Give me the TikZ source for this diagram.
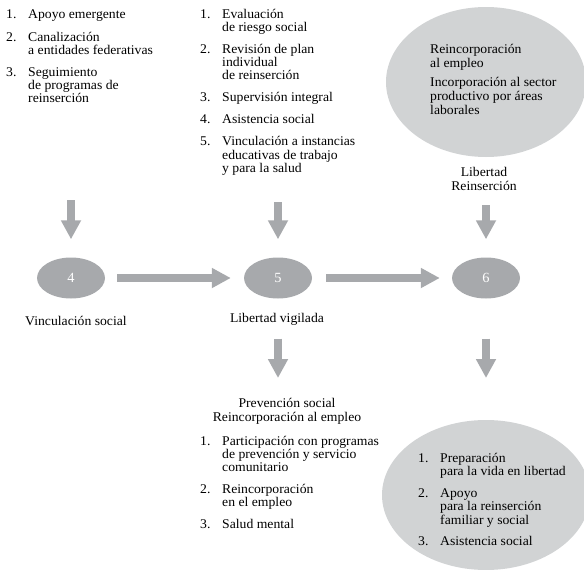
\documentclass[tikz,border=0pt]{standalone}
\usepackage{fontspec}
\setmainfont[FakeStretch=1.03]{Liberation Serif}
\usetikzlibrary{arrows.meta,shapes.geometric}
\definecolor{arrowgray}{HTML}{A7A9AC}
\definecolor{ovalgray}{HTML}{A7A9AC}
\definecolor{lightoval}{HTML}{D1D3D4}
\newcommand\itm[1]{\makebox[22pt][l]{#1}}
\tikzset{
  txt/.style={font=\fontsize{13.3}{13}\selectfont, inner sep=0pt},
  txtb/.style={font=\fontsize{13.3}{14}\selectfont, inner sep=0pt},
  smallov/.style={ellipse, fill=ovalgray, draw=none, minimum width=68pt, minimum height=41pt, inner sep=0pt, text=white, font=\fontsize{14}{14}\selectfont},
  bigov/.style={ellipse, fill=lightoval, draw=none, minimum width=200pt, minimum height=150pt, inner sep=0pt},
  bigarrow/.style={draw=arrowgray, line width=7.5pt, -{Triangle[width=19pt,length=19pt]}}
}
\begin{document}
\begin{tikzpicture}[x=1pt,y=-1pt]
\useasboundingbox (0,0) rectangle (584,570);
% big ellipses
\node[bigov] (etop) at (486,82) {};
\node[bigov, minimum width=208pt, minimum height=150pt] (ebot) at (486,495) {};
% lists
\node[txt, anchor=base west] (list1) at (6,19) {\begin{tabular}[t]{@{}l@{}}
\itm{1.}Apoyo emergente\\[9pt]
\itm{2.}Canalización\\
\itm{}a entidades federativas\\[9pt]
\itm{3.}Seguimiento\\
\itm{}de programas de\\
\itm{}reinserción
\end{tabular}};
\node[txt, anchor=base west] (list2) at (200,18) {\begin{tabular}[t]{@{}l@{}}
\itm{1.}Evaluación\\
\itm{}de riesgo social\\[9pt]
\itm{2.}Revisión de plan\\
\itm{}individual\\
\itm{}de reinserción\\[9pt]
\itm{3.}Supervisión integral\\[9pt]
\itm{4.}Asistencia social\\[9pt]
\itm{5.}Vinculación a instancias\\
\itm{}educativas de trabajo\\
\itm{}y para la salud
\end{tabular}};
\node[txtb, anchor=base west] (list3) at (430,53) {\begin{tabular}[t]{@{}l@{}}
Reincorporación\\
al empleo\\[5pt]
Incorporación al sector\\
productivo por áreas\\
laborales
\end{tabular}};
\node[txtb, anchor=base] (lib) at (484,176) {\begin{tabular}[t]{@{}c@{}}
Libertad\\
Reinserción
\end{tabular}};
% ovals
\node[smallov] (n4) at (71,278) {4};
\node[smallov] (n5) at (278,278) {5};
\node[smallov] (n6) at (486,278) {6};
\node[txt, anchor=base] (lab4) at (76,325) {Vinculación social};
\node[txt, anchor=base] (lab5) at (277,322) {Libertad vigilada};
% bottom middle
\node[txtb, anchor=base] (prev) at (287,407) {\begin{tabular}[t]{@{}c@{}}
Prevención social\\
Reincorporación al empleo
\end{tabular}};
\node[txt, anchor=base west] (list4) at (200,445) {\begin{tabular}[t]{@{}l@{}}
\itm{1.}Participación con programas\\
\itm{}de prevención y servicio\\
\itm{}comunitario\\[9pt]
\itm{2.}Reincorporación\\
\itm{}en el empleo\\[9pt]
\itm{3.}Salud mental
\end{tabular}};
\node[font=\fontsize{13.3}{13.5}\selectfont, inner sep=0pt, anchor=base west] (list5) at (418,462) {\begin{tabular}[t]{@{}l@{}}
\itm{1.}Preparación\\
\itm{}para la vida en libertad\\[8pt]
\itm{2.}Apoyo\\
\itm{}para la reinserción\\
\itm{}familiar y social\\[8pt]
\itm{3.}Asistencia social
\end{tabular}};
% connectors
\coordinate (a4) at (71,200);
\coordinate (a5) at (278,202);
\coordinate (a6) at (486,205);
\coordinate (b5) at (278,378);
\coordinate (b6) at (486,378);
\draw[bigarrow, shorten >=18pt] (a4) -- (n4.north);
\draw[bigarrow, shorten >=18pt] (a5) -- (n5.north);
\draw[bigarrow, shorten >=18pt] (a6) -- (n6.north);
\draw[bigarrow, shorten <=12pt, shorten >=13pt] (n4) -- (n5);
\draw[bigarrow, shorten <=14pt, shorten >=12pt] (n5) -- (n6);
\draw[bigarrow, shorten <=40pt] (n5.south) -- (b5);
\draw[bigarrow, shorten <=40pt] (n6.south) -- (b6);
\end{tikzpicture}
\end{document}
